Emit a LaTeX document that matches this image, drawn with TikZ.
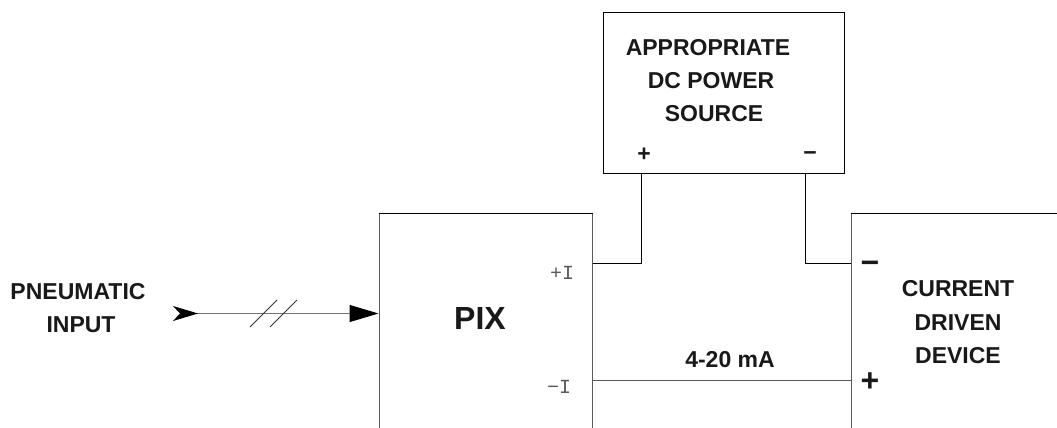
\documentclass[tikz,border=0pt]{standalone}
\usepackage{fontspec}
\setmainfont{Liberation Sans}
\setmonofont{Liberation Mono}
\usetikzlibrary{calc,arrows.meta}
\tikzset{
  boxline/.style={draw=black!65, line width=1pt},
  wire/.style={draw=black, line width=1pt},
  label/.style={font=\fontsize{23}{23}\selectfont\bfseries, inner sep=0pt, text=black!90},
  term/.style={font=\fontsize{20}{20}\selectfont\ttfamily, inner sep=0pt, text=black!65}
}
\begin{document}
\begin{tikzpicture}[x=1pt,y=-1pt]
  \clip (0,0) rectangle (1057,428);
  \node[wire, rectangle, minimum width=241pt, minimum height=160pt, inner sep=0pt] (source) at (723.5,93) {};
  \node[boxline, rectangle, minimum width=213pt, minimum height=300pt, inner sep=0pt] (pix) at (485.5,363.5) {};
  \node[boxline, rectangle, minimum width=300pt, minimum height=300pt, inner sep=0pt] (device) at (1001,363.5) {};
  \draw[wire] (pix.north west) -- (pix.north east);
  \draw[wire] (device.north west) -- (device.north east);
  % power wires
  \coordinate (pixplus) at ($(pix.north east)+(0,50)$);
  \coordinate (pixminus) at ($(pix.north east)+(0,167)$);
  \coordinate (devminus) at ($(device.north west)+(0,50)$);
  \coordinate (devplus) at ($(device.north west)+(0,167)$);
  \coordinate (srcplus) at ($(source.south west)+(38.5,0)$);
  \coordinate (srcminus) at ($(source.south west)+(202.5,0)$);
  \draw[wire] (srcplus) |- (pixplus);
  \draw[wire] (srcminus) |- (devminus);
  \draw[boxline] (pixminus) -- (devplus);
  % pneumatic input
  \coordinate (airstart) at (173,313.5);
  \draw[draw=black!55, line width=1.2pt, {Stealth[black,reversed,length=25pt,width=15pt,inset=7pt]}-{Triangle[black,length=29pt,width=17pt]}] (airstart) -- (pix.west |- airstart);
  \foreach \x in {250,270}
    \draw[black!80, line width=0.8pt] ($(airstart)+(\x-173,13.5)$) -- +(27,-27);
  % texts
  \node[label] (tapp) at (708,48) {APPROPRIATE};
  \node[label] (tdc) at (711,81) {DC POWER};
  \node[label] (tsrc) at (714,114) {SOURCE};
  \node[label] (tplus) at (644,155) {+};
  \node[label] (tminus) at (810,156) {\textminus};
  \node[label] (tpneu) at (78,292) {PNEUMATIC};
  \node[label] (tinp) at (81,325) {INPUT};
  \node[label, font=\fontsize{32}{32}\selectfont\bfseries] (tpix) at (480,318) {PIX};
  \node[term] (tpi) at (562,273) {+I};
  \node[term] (tmi) at (559,387) {\textminus I};
  \node[label] (tma) at (730,360) {4-20 mA};
  \node[label] (tcur) at (958,289) {CURRENT};
  \node[label] (tdri) at (958,323) {DRIVEN};
  \node[label] (tdev) at (958,356) {DEVICE};
  \node[label, font=\fontsize{32}{32}\selectfont\bfseries] (dminus) at (870,267) {\textminus};
  \node[label, font=\fontsize{32}{32}\selectfont\bfseries] (dplus) at (870,382) {+};
\end{tikzpicture}
\end{document}
